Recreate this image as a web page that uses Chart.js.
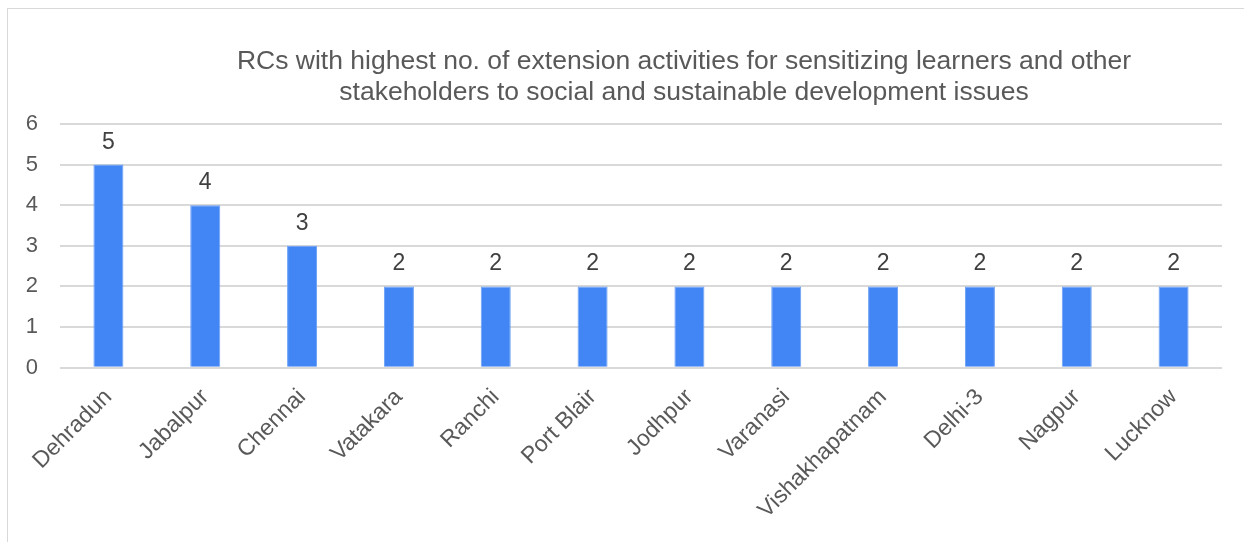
<!DOCTYPE html>
<html>
<head>
<meta charset="utf-8">
<script src="https://cdn.jsdelivr.net/npm/chart.js@4.4.0/dist/chart.umd.min.js"></script>
<style>
  html, body { margin: 0; padding: 0; background: #fff; overflow: hidden; }
  #wrap {
    position: absolute; left: 7px; top: 8px;
    width: 1240px; height: 540px;
    border-left: 1px solid #d9d9d9; border-top: 1px solid #d9d9d9;
  }
  canvas { display: block; }
</style>
</head>
<body>
<div id="wrap"><canvas id="chart" width="1236" height="533"></canvas></div>
<script>
  // Regional centres and their extension activity counts
  const centres = ['Dehradun', 'Jabalpur', 'Chennai', 'Vatakara', 'Ranchi', 'Port Blair',
                   'Jodhpur', 'Varanasi', 'Vishakhapatnam', 'Delhi-3', 'Nagpur', 'Lucknow'];
  const activities = [5, 4, 3, 2, 2, 2, 2, 2, 2, 2, 2, 2];
  const yTicks = [0, 1, 2, 3, 4, 5, 6];

  const titleLines = ['RCs with highest no. of extension activities for sensitizing learners and other',
                      'stakeholders to social and sustainable development issues'];

  const FONT = '"Liberation Sans", Arial, sans-serif';

  // title is centred on the original (wider) chart, so draw it by hand
  const chartTitle = {
    id: 'chartTitle',
    afterDraw(chart) {
      const ctx = chart.ctx;
      ctx.save();
      ctx.font = '26.5px ' + FONT;
      ctx.fillStyle = '#595959';
      ctx.textAlign = 'center';
      ctx.textBaseline = 'alphabetic';
      titleLines.forEach((line, i) => ctx.fillText(line, 676, 60 + i * 31));
      ctx.restore();
    }
  };

  // value labels above each bar
  const barLabels = {
    id: 'barLabels',
    afterDatasetsDraw(chart) {
      const ctx = chart.ctx;
      const meta = chart.getDatasetMeta(0);
      ctx.save();
      ctx.font = '23px ' + FONT;
      ctx.fillStyle = '#404040';
      ctx.textAlign = 'center';
      ctx.textBaseline = 'alphabetic';
      meta.data.forEach((bar, i) => {
        ctx.fillText(String(activities[i]), bar.x, bar.y - 16);
      });
      ctx.restore();
    }
  };

  new Chart(document.getElementById('chart'), {
    type: 'bar',
    data: {
      labels: centres,
      datasets: [{
        data: activities,
        backgroundColor: '#4285f4',
        borderColor: '#6aa0f7',
        borderWidth: 1,
        barPercentage: 0.31,
        categoryPercentage: 1
      }]
    },
    options: {
      responsive: false,
      animation: false,
      layout: { padding: { left: 0, right: 22, top: 115, bottom: 10 } },
      plugins: {
        legend: { display: false },
        tooltip: { enabled: false },
        title: { display: false }
      },
      scales: {
        x: {
          grid: { display: false },
          border: { display: false },
          afterFit(scale) {
            scale.paddingLeft = 0;
            scale.paddingRight = 0;
          },
          ticks: {
            color: '#595959',
            font: { family: FONT, size: 23 },
            maxRotation: 45,
            minRotation: 45,
            autoSkip: false,
            padding: 8
          }
        },
        y: {
          min: 0,
          max: 6,
          afterBuildTicks(scale) {
            scale.ticks = yTicks.map(v => ({ value: v }));
          },
          afterFit(scale) {
            scale.width = 52;
          },
          grid: { color: '#d9d9d9', lineWidth: 2, drawTicks: false },
          border: { display: false },
          ticks: {
            color: '#595959',
            font: { family: FONT, size: 22 },
            padding: 22
          }
        }
      }
    },
    plugins: [barLabels, chartTitle]
  });
</script>
</body>
</html>
